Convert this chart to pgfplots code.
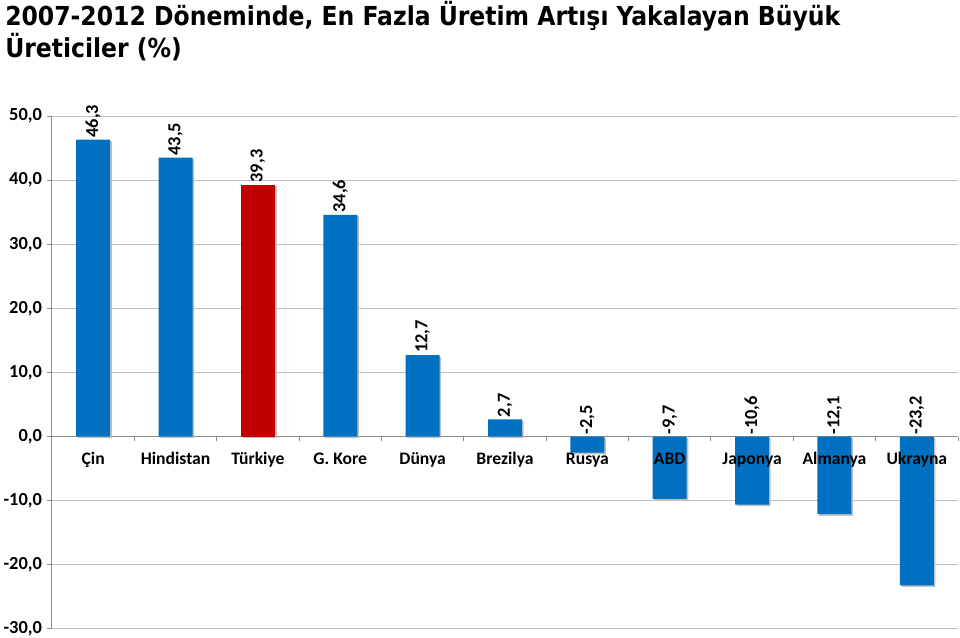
\documentclass[border=0pt]{standalone}
\usepackage{fontspec}
\setmainfont{DejaVu Sans Condensed}
\newfontfamily\calfont{Carlito}
\usepackage{pgfplots}
\pgfplotsset{compat=1.18}
\usepackage{pgfplotstable}
\definecolor{barblue}{RGB}{0,112,192}
\definecolor{barred}{RGB}{192,0,0}
\definecolor{gridgray}{RGB}{190,190,190}
\definecolor{axgray}{RGB}{140,140,140}

\pgfplotstableread{
x val pos
0 46.3 46.3
1 43.5 43.5
2 39.3 39.3
3 34.6 34.6
4 12.7 12.7
5 2.7 2.7
6 -2.5 0
7 -9.7 0
8 -10.6 0
9 -12.1 0
10 -23.2 0
}\data

\pgfplotstableread{
x val
0 46.3
1 43.5
3 34.6
4 12.7
5 2.7
6 -2.5
7 -9.7
8 -10.6
9 -12.1
10 -23.2
}\bluedata

\pgfplotstableread{
x val
2 39.3
}\reddata

\newcommand\lblfont{\calfont\bfseries\fontsize{13.2}{15}\selectfont}
\newcommand\valfont{\calfont\bfseries\fontsize{13.8}{15}\selectfont}

\begin{document}
\begin{tikzpicture}
\path[use as bounding box] (-39pt,-6.75pt) rectangle (681pt,471.75pt);
\node[anchor=north west, align=left, inner sep=0pt,
      font=\bfseries\fontsize{19.6}{24}\selectfont] at (-35.25pt,471pt)
  {2007-2012 Döneminde, En Fazla Üretim Artışı Yakalayan Büyük\\Üreticiler (\%)};
\begin{axis}[
  at={(0,0)}, anchor=south west,
  scale only axis, width=679.5pt, height=384.75pt,
  xmin=-0.5, xmax=10.5, ymin=-30, ymax=50,
  axis x line*=middle, axis y line*=left,
  axis line style={axgray, line width=0.75pt},
  xtick={-0.5,0.5,...,10.5},
  xticklabels={},
  x tick style={axgray, line width=0.75pt},
  tick align=outside,
  major tick length=3.5pt,
  ytick={-30,-20,...,50},
  y tick style={axgray, line width=0.75pt},
  ymajorgrids, grid style={gridgray, line width=0.75pt},
  ticklabel style={font=\valfont},
  yticklabel style={/pgf/number format/fixed, /pgf/number format/fixed zerofill,
     /pgf/number format/precision=1, /pgf/number format/use comma,
     /pgf/number format/assume math mode=true, xshift=-0.5pt},
  clip=false,
]
\addplot[ybar, bar width=25.5pt, bar shift=0pt, fill=barblue, draw=none,
  preaction={fill=black!25, transform canvas={xshift=1.2pt,yshift=-1.2pt}}]
  table[x=x, y=val] {\bluedata};
\addplot[ybar, bar width=25.5pt, bar shift=0pt, fill=barred, draw=none,
  preaction={fill=black!25, transform canvas={xshift=1.2pt,yshift=-1.2pt}}]
  table[x=x, y=val] {\reddata};
\addplot[draw=none, mark=none, nodes near coords, point meta=explicit,
  every node near coord/.append style={rotate=90, anchor=west, inner sep=1.5pt,
    font=\valfont,
    /pgf/number format/fixed, /pgf/number format/fixed zerofill,
    /pgf/number format/precision=1, /pgf/number format/use comma,
    /pgf/number format/assume math mode=true}]
  table[x=x, y=pos, meta=val] {\data};
\node[anchor=base, font=\lblfont, yshift=-21pt] at (axis cs:0,0) {Çin};
\node[anchor=base, font=\lblfont, yshift=-21pt] at (axis cs:1,0) {Hindistan};
\node[anchor=base, font=\lblfont, yshift=-21pt] at (axis cs:2,0) {Türkiye};
\node[anchor=base, font=\lblfont, yshift=-21pt] at (axis cs:3,0) {G. Kore};
\node[anchor=base, font=\lblfont, yshift=-21pt] at (axis cs:4,0) {Dünya};
\node[anchor=base, font=\lblfont, yshift=-21pt] at (axis cs:5,0) {Brezilya};
\node[anchor=base, font=\lblfont, yshift=-21pt] at (axis cs:6,0) {Rusya};
\node[anchor=base, font=\lblfont, yshift=-21pt] at (axis cs:7,0) {ABD};
\node[anchor=base, font=\lblfont, yshift=-21pt] at (axis cs:8,0) {Japonya};
\node[anchor=base, font=\lblfont, yshift=-21pt] at (axis cs:9,0) {Almanya};
\node[anchor=base, font=\lblfont, yshift=-21pt] at (axis cs:10,0) {Ukrayna};
\end{axis}
\end{tikzpicture}
\end{document}
